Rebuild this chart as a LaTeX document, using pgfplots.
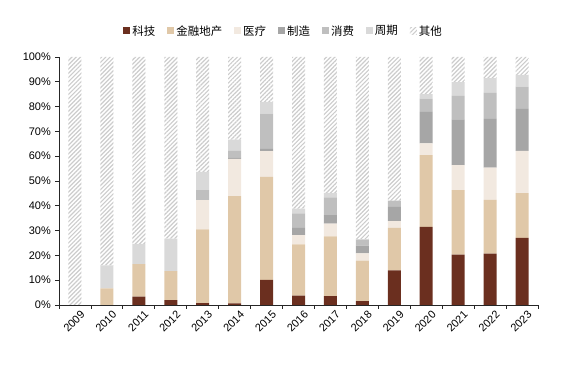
\documentclass[border=0pt]{standalone}
\usepackage{pgfplots}
\pgfplotsset{compat=1.18}
\usepackage{fontspec}
\setmainfont{Liberation Sans}
\newfontfamily\cjk{Noto Sans CJK SC}
\usetikzlibrary{patterns.meta}
\definecolor{ctech}{HTML}{6B2F1F}
\definecolor{cfin}{HTML}{E0C8A8}
\definecolor{cmed}{HTML}{F2E9E0}
\definecolor{cmanu}{HTML}{A6A6A6}
\definecolor{ccons}{HTML}{BFBFBF}
\definecolor{cper}{HTML}{D9D9D9}
\definecolor{chatch}{HTML}{CCCCCC}
\begin{document}
\begin{tikzpicture}
\path[use as bounding box] (0,0) rectangle (573bp,375bp);
\begin{axis}[
  at={(59bp,70bp)}, anchor=south west,
  width=479bp, height=248bp, scale only axis,
  ybar stacked, bar width=13bp,
  xmin=-0.5, xmax=14.5, ymin=0, ymax=100,
  axis x line*=bottom, axis y line*=left,
  axis line style={black!85, line width=0.8bp},
  xtick={0,...,14},
  xticklabels={2009,2010,2011,2012,2013,2014,2015,2016,2017,2018,2019,2020,2021,2022,2023},
  minor xtick={-0.5,0.5,...,14.5},
  every major x tick/.append style={draw=none},
  tick align=outside, major tick length=4bp, minor tick length=4bp,
  tick style={black!85, line width=0.8bp},
  ytick={0,10,...,100},
  yticklabels={0\%,10\%,20\%,30\%,40\%,50\%,60\%,70\%,80\%,90\%,100\%},
  tick label style={font=\fontsize{11}{13}\selectfont},
  x tick label style={rotate=45, anchor=north east, inner sep=1bp, xshift=4bp, yshift=-3bp},
  y tick label style={inner sep=1bp, xshift=-3bp},
  legend columns=7,
  legend style={at={(0.469,1.105)}, anchor=center, draw=none, fill=none,
    font=\cjk\fontsize{11.5}{13}\selectfont,
    /tikz/every even column/.append style={column sep=10bp},
    nodes={inner xsep=2bp}},
  legend image code/.code={\path[#1] (0bp,-3.5bp) rectangle (7bp,3.5bp);},
]
\addplot[fill=ctech, draw=none] coordinates {(0,0) (1,0) (2,3.4) (3,2.0) (4,0.8) (5,0.7) (6,10.1) (7,3.8) (8,3.6) (9,1.6) (10,14.0) (11,31.5) (12,20.3) (13,20.7) (14,27.1)};
\addlegendentry{科技}
\addplot[fill=cfin, draw=none] coordinates {(0,0) (1,6.7) (2,13.1) (3,11.7) (4,29.7) (5,43.2) (6,41.6) (7,20.6) (8,24.1) (9,16.3) (10,17.1) (11,28.9) (12,26.0) (13,21.7) (14,18.0)};
\addlegendentry{金融地产}
\addplot[fill=cmed, draw=none] coordinates {(0,0) (1,0) (2,0) (3,0) (4,11.8) (5,15.0) (6,10.3) (7,3.8) (8,5.1) (9,2.9) (10,2.7) (11,4.8) (12,10.1) (13,13.0) (14,17.0)};
\addlegendentry{医疗}
\addplot[fill=cmanu, draw=none] coordinates {(0,0) (1,0) (2,0) (3,0) (4,0) (5,0.6) (6,1.0) (7,2.9) (8,3.4) (9,3.1) (10,5.8) (11,12.7) (12,18.4) (13,19.6) (14,17.0)};
\addlegendentry{制造}
\addplot[fill=ccons, draw=none] coordinates {(0,0) (1,0) (2,0) (3,0) (4,4.0) (5,2.6) (6,14.2) (7,5.8) (8,7.2) (9,2.5) (10,2.5) (11,5.3) (12,9.5) (13,10.5) (14,9.0)};
\addlegendentry{消费}
\addplot[fill=cper, draw=none] coordinates {(0,0) (1,9.3) (2,8.1) (3,13.1) (4,7.4) (5,4.6) (6,4.7) (7,2.0) (8,1.8) (9,0.2) (10,0) (11,1.8) (12,5.6) (13,6.0) (14,4.7)};
\addlegendentry{周期}
\addplot[fill=white, pattern={Lines[angle=45, distance=3bp, line width=1.2bp]}, pattern color=chatch, draw=none] coordinates {(0,100) (1,84.0) (2,75.4) (3,73.2) (4,46.3) (5,33.3) (6,18.1) (7,61.1) (8,54.8) (9,73.4) (10,57.9) (11,15.0) (12,10.1) (13,8.5) (14,7.2)};
\addlegendentry{其他}
\end{axis}
\end{tikzpicture}
\end{document}
